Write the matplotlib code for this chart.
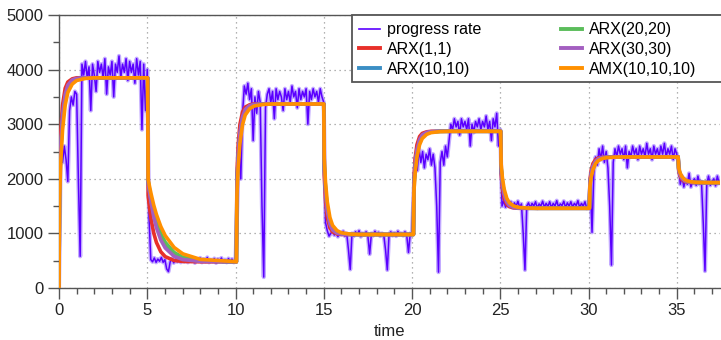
import matplotlib
matplotlib.use("Agg")
import matplotlib.pyplot as plt
import numpy as np
from matplotlib.patches import Rectangle
from matplotlib.ticker import MultipleLocator

plt.rcParams['font.family'] = ['Liberation Sans', 'DejaVu Sans']

rate_dt = 0.1
rate_seg0 = [0, 2550, 2300, 2600, 2350, 1950, 3250, 3500, 3350, 3600,
             3550, 1950, 580, 4100, 3900, 4150, 3850, 4050, 3250, 4100,
             3900, 3600, 4150, 3950, 4100, 3850, 4200, 3550, 4050, 3900,
             4150, 3500, 4100, 3950, 4250, 3850, 4100, 3950, 4200, 3800,
             4150, 3950, 4100, 3750, 4200, 3900, 4150, 2900, 4100, 3250]
rate_seg1 = [4000, 1300, 520, 480, 550, 470, 530, 490, 560, 470,
             520, 350, 300, 480, 540, 460, 530, 480, 550, 470,
             520, 480, 560, 470, 530, 490, 540, 460, 520, 490,
             550, 470, 530, 480, 560, 470, 520, 490, 540, 460,
             530, 490, 550, 480, 520, 470, 540, 490, 530, 470]
rate_seg2 = [480, 1500, 2600, 2000, 3200, 3700, 3550, 3750, 3450, 3650,
             2700, 3500, 3200, 3600, 3400, 1500, 200, 3300, 3550, 3650,
             3400, 3600, 3100, 3650, 3450, 3600, 3500, 3250, 3650, 3450,
             3600, 3400, 3700, 3500, 3600, 3300, 3650, 3450, 3600, 3500,
             3650, 3000, 3600, 3450, 3650, 3500, 3600, 3400, 3650, 3500]
rate_seg3 = [3400, 1200, 1050, 950, 1000, 1050, 970, 1020, 940, 1010,
             980, 1040, 950, 1000, 700, 340, 1000, 950, 1030, 980,
             1050, 940, 1000, 970, 1030, 950, 620, 1000, 960, 1040,
             980, 1020, 950, 1000, 970, 700, 330, 980, 1030, 960,
             1010, 950, 1040, 980, 1000, 960, 1030, 970, 650, 1000]
rate_seg4 = [1000, 1800, 2400, 2150, 2550, 2300, 2500, 2200, 2450, 2350,
             2550, 2250, 2450, 2200, 1500, 290, 2300, 2500, 2250, 2600,
             2400, 2700, 3000, 2900, 3100, 2950, 3050, 2800, 3100, 2950,
             3050, 2900, 3100, 2600, 3000, 2850, 3050, 2950, 3100, 2900,
             3050, 2950, 3150, 2900, 3050, 2700, 3100, 2950, 3200, 2600]
rate_seg5 = [2900, 1500, 1600, 1480, 1550, 1500, 1580, 1470, 1560, 1500,
             1590, 1480, 1540, 1000, 330, 1500, 1560, 1470, 1550, 1500,
             1580, 1460, 1540, 1500, 1590, 1480, 1550, 1490, 1580, 1470,
             1550, 1500, 1600, 1480, 1540, 1510, 1590, 1470, 1560, 1500,
             1580, 1480, 1550, 1510, 1600, 1470, 1550, 1500, 1580, 1460]
rate_seg6 = [1500, 1900, 1020, 2100, 2400, 2250, 2550, 2350, 2600, 2300,
             2500, 2200, 1500, 420, 2300, 2550, 2400, 2600, 2450, 2550,
             2350, 2600, 2200, 2500, 2400, 2600, 2450, 2550, 2350, 2600,
             2450, 2550, 2400, 2650, 2450, 2550, 2350, 2600, 2450, 2550,
             2400, 2600, 2450, 2650, 2400, 2550, 2450, 2600, 2350, 2550]
rate_seg7 = [2450, 2300, 1900, 2050, 1850, 2000, 1900, 2100, 1850, 1950,
             2000, 1880, 2050, 1900, 1950, 1200, 310, 1900, 2050, 1880,
             1950, 2000, 1870, 2050, 1920]

# model step levels and step times
step_times = [0.0, 5.02, 10.05, 15.0, 20.08, 25.02, 30.05, 35.08]
model_levels = [3850, 480, 3370, 980, 2870, 1460, 2400, 1930]
step_shape = ['fast', 'slow', 'fast', 'fast', 'fast', 'fast', 'fast', 'fast']

# fraction of each step completed at these delays after the step
resp_offsets = [0, 0.03, 0.1, 0.2, 0.35, 0.5, 0.75, 1.0, 1.5, 2.0, 3.0, 4.99]
resp_fast = {
    'ARX(1,1)':    [0, 0.55, 0.74, 0.87, 0.95, 0.98, 0.995, 1, 1, 1, 1, 1],
    'ARX(10,10)':  [0, 0.48, 0.66, 0.80, 0.91, 0.955, 0.985, 0.995, 1, 1, 1, 1],
    'ARX(20,20)':  [0, 0.47, 0.65, 0.79, 0.90, 0.95, 0.982, 0.993, 0.999, 1, 1, 1],
    'ARX(30,30)':  [0, 0.50, 0.68, 0.82, 0.92, 0.965, 0.99, 0.997, 1, 1, 1, 1],
    'AMX(10,10,10)': [0, 0.42, 0.60, 0.75, 0.87, 0.93, 0.97, 0.987, 0.997, 1, 1, 1],
}
resp_slow = {
    'ARX(1,1)':    [0, 0.64, 0.70, 0.77, 0.845, 0.895, 0.946, 0.972, 0.993, 0.998, 1, 1],
    'ARX(10,10)':  [0, 0.564, 0.611, 0.669, 0.74, 0.796, 0.863, 0.909, 0.959, 0.982, 0.996, 1],
    'ARX(20,20)':  [0, 0.56, 0.603, 0.657, 0.725, 0.78, 0.847, 0.894, 0.949, 0.976, 0.994, 1],
    'ARX(30,30)':  [0, 0.57, 0.616, 0.68, 0.756, 0.815, 0.882, 0.925, 0.97, 0.988, 0.998, 1],
    'AMX(10,10,10)': [0, 0.55, 0.586, 0.632, 0.693, 0.743, 0.809, 0.858, 0.922, 0.957, 0.987, 0.999],
}
model_colors = {
    'ARX(1,1)': '#e8302a',
    'ARX(10,10)': '#3b8ec4',
    'ARX(20,20)': '#5bbd5b',
    'ARX(30,30)': '#a35fc0',
    'AMX(10,10,10)': '#ff9000',
}
model_order = ['ARX(1,1)', 'ARX(10,10)', 'ARX(20,20)', 'ARX(30,30)', 'AMX(10,10,10)']


def model_curve(name):
    ts, vs = [], []
    prev = 0.0
    for i, t0 in enumerate(step_times):
        frac = resp_fast[name] if step_shape[i] == 'fast' else resp_slow[name]
        end = step_times[i + 1] if i + 1 < len(step_times) else 37.5
        for off, f in zip(resp_offsets, frac):
            if t0 + off < end:
                ts.append(t0 + off)
                vs.append(prev + (model_levels[i] - prev) * f)
        prev = model_levels[i]
    ts.append(37.5)
    vs.append(prev)
    return ts, vs


rate = (rate_seg0 + rate_seg1 + rate_seg2 + rate_seg3 + rate_seg4 +
        rate_seg5 + rate_seg6 + rate_seg7)
t_rate = np.arange(len(rate)) * rate_dt

fig = plt.figure(figsize=(7.21, 3.40), dpi=100)
ax = fig.add_axes([59 / 721, 52 / 340, 661 / 721, 273 / 340])

ax.plot(t_rate, rate, color='#7a45ff', lw=3.0, alpha=0.45, zorder=2)
line_rate, = ax.plot(t_rate, rate, color='#5a00ff', lw=1.1, zorder=2,
                     label='progress rate')

handles = [line_rate]
for name in model_order:
    ts, vs = model_curve(name)
    h, = ax.plot(ts, vs, color=model_colors[name], lw=2.6, zorder=3, label=name)
    handles.append(h)

ax.set_xlim(0, 37.45)
ax.set_ylim(0, 5000)
ax.xaxis.set_major_locator(MultipleLocator(5))
ax.xaxis.set_minor_locator(MultipleLocator(1))
ax.yaxis.set_major_locator(MultipleLocator(1000))
ax.yaxis.set_minor_locator(MultipleLocator(500))
ax.grid(True, which='major', color='#999999', linestyle=(0, (1, 3)), lw=0.9)
ax.set_axisbelow(True)

for s in ['left', 'bottom', 'top']:
    ax.spines[s].set_color('#555555')
    ax.spines[s].set_linewidth(1.0)
ax.spines['right'].set_visible(False)
ax.tick_params(which='major', length=8, width=1, color='#555555',
               labelsize=12, labelcolor='#222222', pad=3)
ax.tick_params(which='minor', length=4.5, width=1, color='#555555')
ax.set_xlabel('time', fontsize=12, color='#222222', labelpad=4)

# legend frame drawn as a box reaching the right edge, entries placed inside
leg_x0 = (352 - 59) / 661
leg_y0 = (288 - 82) / 273
ax.add_patch(Rectangle((leg_x0, leg_y0), 1.2 - leg_x0, 1.0 - leg_y0,
                       transform=ax.transAxes, facecolor='white',
                       edgecolor='#555555', lw=1.3, zorder=9, clip_on=False))
leg = ax.legend(handles=handles, ncol=2, loc='upper left',
                bbox_to_anchor=(leg_x0, 1.0), borderaxespad=0,
                fontsize=11.5, frameon=False,
                handlelength=1.3, labelspacing=0.3, columnspacing=5.0,
                borderpad=0.45, handletextpad=0.45)
leg.set_zorder(10)
for i, lh in enumerate(leg.get_lines()):
    lh.set_linewidth(1.2 if i == 0 else 2.8)

fig.savefig('out.png', dpi=100)
